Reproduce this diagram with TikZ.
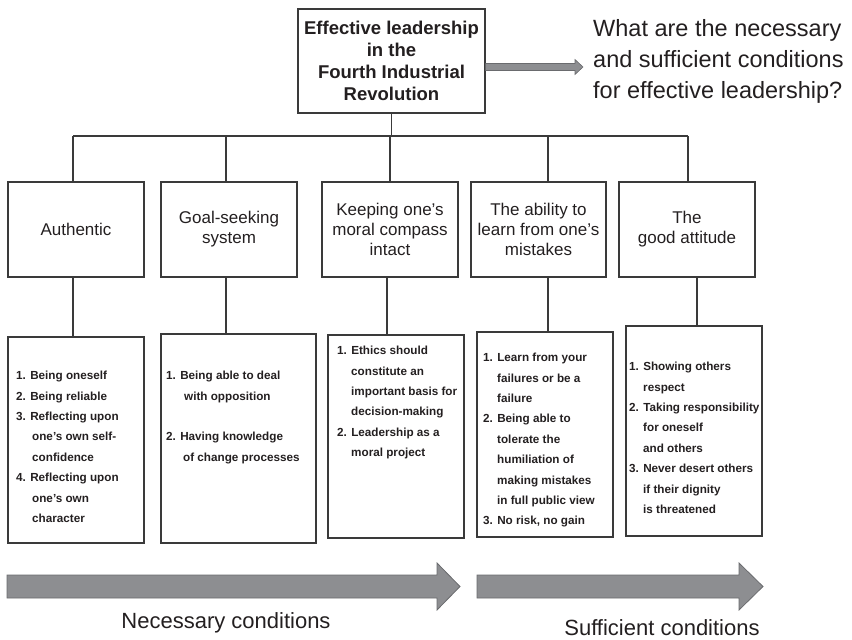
\documentclass[tikz,border=0pt]{standalone}
\usepackage{fontspec}
\setmainfont{Liberation Sans}
\usetikzlibrary{arrows.meta,calc}

\definecolor{ink}{HTML}{231F20}
\definecolor{rule}{HTML}{3A3A3A}
\definecolor{arrowfill}{HTML}{8D8E91}
\definecolor{arrowedge}{HTML}{6A6B6E}

\begin{document}
\begin{tikzpicture}[x=1pt,y=-1pt,
  box/.style={draw=rule, line width=1.1pt, inner sep=0pt, text=ink},
  topbox/.style={box, align=center, font=\fontsize{18.5}{22}\selectfont\bfseries,
    minimum width=187pt, minimum height=104pt},
  headbox/.style={box, align=center, font=\fontsize{17}{20}\selectfont,
    minimum width=136pt, minimum height=95pt},
  listbox/.style={box},
  listtext/.style={anchor=north west, inner sep=0pt, align=left, text=ink,
    font=\fontsize{11.7}{20.4}\selectfont\bfseries},
  link/.style={draw=rule, line width=1.1pt},
  bigarrow/.style={fill=arrowfill, draw=arrowedge, line width=0.8pt},
  caption/.style={inner sep=0pt, text=ink, font=\fontsize{22}{26}\selectfont},
  question/.style={anchor=west, inner sep=0pt, align=left, text=ink,
    font=\fontsize{23.5}{31}\selectfont}
]
\useasboundingbox (0,0) rectangle (852,640);

% title box and the question it leads to
\node[topbox] (top) at (391.5,61) {Effective leadership\\in the\\Fourth Industrial\\Revolution};
\node[question] (q) at (593,61) {What are the necessary\\and sufficient conditions\\for effective leadership?};

% five headline boxes
\node[headbox] (u1) at (76,229.5)    {Authentic};
\node[headbox] (u2) at (229,229.5)   {Goal-seeking\\system};
\node[headbox] (u3) at (390,229.5)   {Keeping one’s\\moral compass\\intact};
\node[headbox, minimum width=135pt] (u4) at (538.5,229.5) {The ability to\\learn from one’s\\mistakes};
\node[headbox] (u5) at (687,229.5)   {The\\good attitude};

% five detail boxes
\node[listbox, minimum width=136pt, minimum height=206pt] (l1) at (76,440) {};
\node[listbox, minimum width=155pt, minimum height=209pt] (l2) at (238.5,438.5) {};
\node[listbox, minimum width=136pt, minimum height=203pt] (l3) at (396,436.5) {};
\node[listbox, minimum width=136pt, minimum height=205pt] (l4) at (545,434.5) {};
\node[listbox, minimum width=136pt, minimum height=210pt] (l5) at (694,431) {};

\node[listtext] (t1) at (16,371) {1. Being oneself\\2. Being reliable\\3. Reflecting upon\\\hspace*{16pt}one’s own self-\\\hspace*{16pt}confidence\\4. Reflecting upon\\\hspace*{16pt}one’s own\\\hspace*{16pt}character};
\node[listtext] (t2) at (166,371) {1. Being able to deal\\\hspace*{18pt}with opposition\\ \\2. Having knowledge\\\hspace*{17pt}of change processes};
\node[listtext] (t3) at (337,346) {1. Ethics should\\\hspace*{14pt}constitute an\\\hspace*{14pt}important basis for\\\hspace*{14pt}decision-making\\2. Leadership as a\\\hspace*{14pt}moral project};
\node[listtext] (t4) at (483,353) {1. Learn from your\\\hspace*{14pt}failures or be a\\\hspace*{14pt}failure\\2. Being able to\\\hspace*{14pt}tolerate the\\\hspace*{14pt}humiliation of\\\hspace*{14pt}making mistakes\\\hspace*{14pt}in full public view\\3. No risk, no gain};
\node[listtext] (t5) at (629,362) {1. Showing others\\\hspace*{14pt}respect\\2. Taking responsibility\\\hspace*{14pt}for oneself\\\hspace*{14pt}and others\\3. Never desert others\\\hspace*{14pt}if their dignity\\\hspace*{14pt}is threatened};

% branching tree from the title box
\coordinate (j1) at (73,136);
\coordinate (j2) at (226,136);
\coordinate (j3) at (390,136);
\coordinate (j4) at (548,136);
\coordinate (j5) at (688,136);
\draw[link] (top.south) -- (top.south |- j1);
\draw[link] (j1) -- (j5);
\foreach \i in {1,...,5} { \draw[link] (j\i) -- (j\i |- u\i.north); }

% drops from headline boxes to detail boxes
\coordinate (k1) at (73,0);
\coordinate (k2) at (226,0);
\coordinate (k3) at (387,0);
\coordinate (k4) at (548,0);
\coordinate (k5) at (697,0);
\foreach \i in {1,...,5} { \draw[link] (k\i |- u\i.south) -- (k\i |- l\i.north); }

% grey arrow towards the question
\coordinate (a0) at ([yshift=-6pt]top.east);
\coordinate (a1) at ([xshift=-10pt,yshift=-6pt]q.west);
\path[bigarrow, line width=0.6pt]
  ($(a0)+(0,-3.5)$) -- ($(a1)+(-8,-3.5)$) -- ($(a1)+(-8,-7.5)$) -- (a1)
  -- ($(a1)+(-8,7.5)$) -- ($(a1)+(-8,3.5)$) -- ($(a0)+(0,3.5)$) -- cycle;

% bottom block arrows and their captions
\path[bigarrow] (7,575) -- (437,575) -- (437,563) -- (460,586.5) -- (437,610)
  -- (437,598) -- (7,598) -- cycle;
\path[bigarrow] (477,575) -- (739,575) -- (739,563) -- (763,586.5) -- (739,610)
  -- (739,598) -- (477,598) -- cycle;
\node[caption] (nec) at (226,623) {Necessary conditions};
\node[caption] (suf) at (662,628) {Sufficient conditions};
\end{tikzpicture}
\end{document}
